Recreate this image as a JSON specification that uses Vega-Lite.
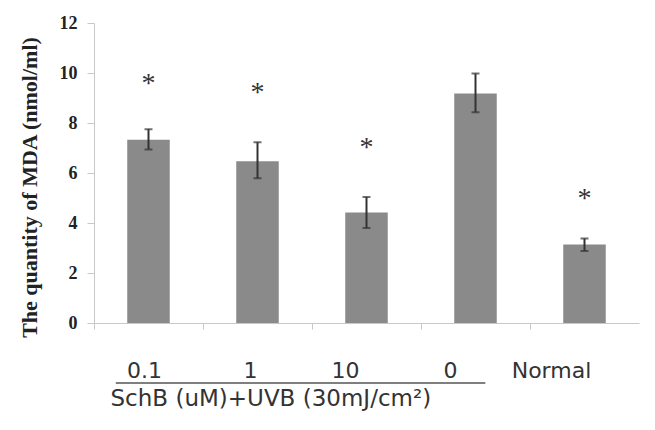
{
  "$schema": "https://vega.github.io/schema/vega-lite/v6.json",
  "width": 545,
  "height": 300,
  "autosize": {"type": "none"},
  "padding": {"left": 94, "top": 23, "right": 16, "bottom": 107},
  "background": "white",
  "config": {"view": {"stroke": null}},
  "datasets": {
    "bars": [
      {"cat": "0.1", "value": 7.33, "lo": 6.94, "hi": 7.75, "star": 9.74, "sig": "*"},
      {"cat": "1", "value": 6.47, "lo": 5.79, "hi": 7.23, "star": 9.35, "sig": "*"},
      {"cat": "10", "value": 4.42, "lo": 3.80, "hi": 5.04, "star": 7.18, "sig": "*"},
      {"cat": "0", "value": 9.18, "lo": 8.43, "hi": 9.98, "star": 9.98, "sig": ""},
      {"cat": "Normal", "value": 3.14, "lo": 2.88, "hi": 3.38, "star": 5.14, "sig": "*"}
    ],
    "bracket": [{"from": "0.1", "to": "0", "y": -2.4}]
  },
  "data": {"name": "bars"},
  "encoding": {
    "x": {
      "field": "cat",
      "type": "nominal",
      "scale": {"domain": ["0.1", "1", "10", "0", "Normal"], "paddingInner": 0, "paddingOuter": 0},
      "axis": {
        "title": "SchB (uM)+UVB (30mJ/cm²)",
        "titleFont": "DejaVu Sans",
        "titleFontSize": 23,
        "titleFontWeight": "normal",
        "titleColor": "#333333",
        "titleAnchor": "start",
        "titleAlign": "left",
        "titleBaseline": "alphabetic",
        "titleX": 16,
        "titleY": 82,
        "labelAngle": 0,
        "labelFont": "DejaVu Sans",
        "labelFontSize": 22,
        "labelColor": "#333333",
        "labelPadding": 31,
        "labelOffset": {
          "condition": [
            {"test": "datum.value === '0.1'", "value": -4},
            {"test": "datum.value === '1'", "value": -7},
            {"test": "datum.value === '10'", "value": -21},
            {"test": "datum.value === '0'", "value": -25}
          ],
          "value": -33
        },
        "bandPosition": 0,
        "tickSize": 6,
        "tickColor": "#c8c8c8",
        "domainColor": "#c8c8c8"
      }
    }
  },
  "layer": [
    {
      "mark": {"type": "bar", "color": "#8a8a8a", "width": {"band": 0.39}},
      "encoding": {
        "y": {
          "field": "value",
          "type": "quantitative",
          "scale": {"domain": [0, 12]},
          "axis": {
            "title": "The quantity of MDA (nmol/ml)",
            "titleFont": "Liberation Serif",
            "titleFontSize": 22,
            "titleFontWeight": "bold",
            "titleColor": "#222222",
            "titlePadding": 18,
            "titleY": 164,
            "values": [0, 2, 4, 6, 8, 10, 12],
            "labelFont": "Liberation Serif",
            "labelFontSize": 18,
            "labelFontWeight": "bold",
            "labelColor": "#222222",
            "labelPadding": 10,
            "tickSize": 7,
            "tickColor": "#c8c8c8",
            "domainColor": "#c8c8c8",
            "grid": false
          }
        }
      }
    },
    {
      "mark": {"type": "rule", "color": "#333333", "strokeWidth": 2},
      "encoding": {
        "y": {"field": "lo", "type": "quantitative"},
        "y2": {"field": "hi"}
      }
    },
    {
      "mark": {"type": "tick", "color": "#333333", "thickness": 2, "size": 8},
      "encoding": {"y": {"field": "hi", "type": "quantitative"}}
    },
    {
      "mark": {"type": "tick", "color": "#333333", "thickness": 2, "size": 8},
      "encoding": {"y": {"field": "lo", "type": "quantitative"}}
    },
    {
      "mark": {"type": "text", "font": "Liberation Serif", "fontSize": 28, "color": "#333333", "baseline": "middle", "dy": 4},
      "encoding": {
        "y": {"field": "star", "type": "quantitative"},
        "text": {"field": "sig"}
      }
    },
    {
      "data": {"name": "bracket"},
      "mark": {"type": "rule", "color": "#555555", "strokeWidth": 1.5, "clip": false},
      "encoding": {
        "x": {"field": "from", "type": "nominal", "bandPosition": 0.2},
        "x2": {"field": "to", "bandPosition": 0.59},
        "y": {"field": "y", "type": "quantitative"}
      }
    }
  ]
}
